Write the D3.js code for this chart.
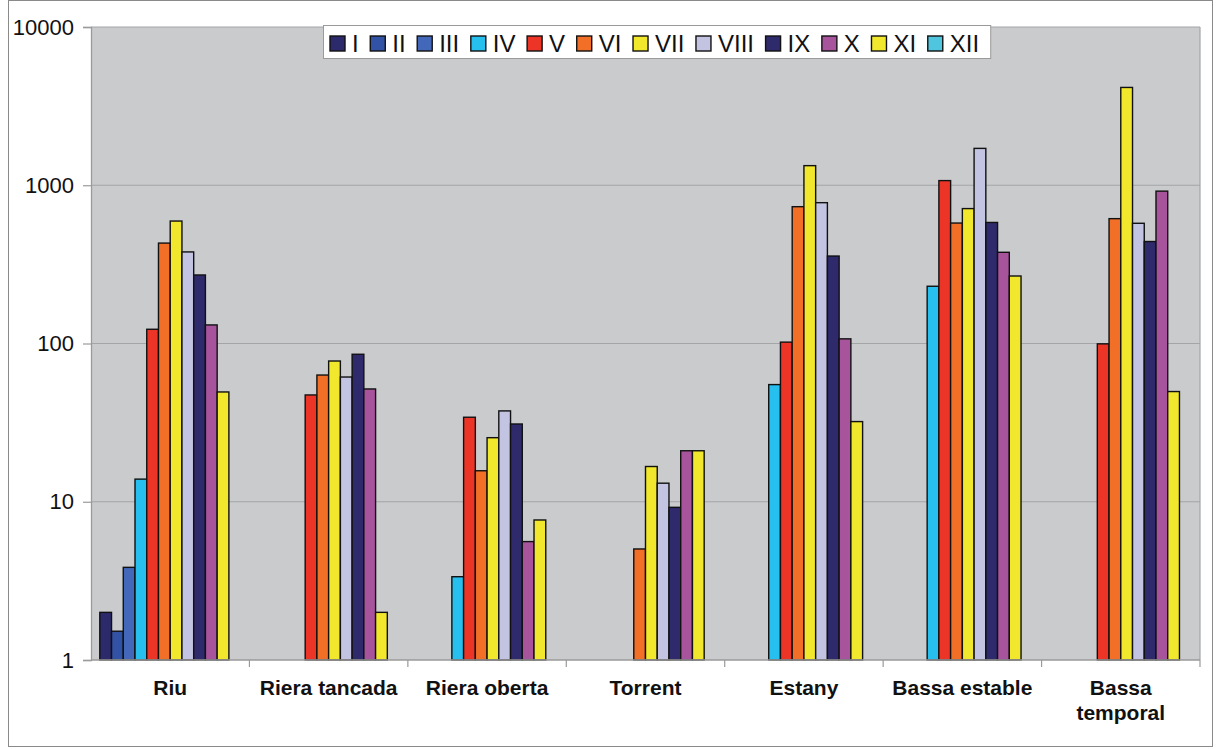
<!DOCTYPE html>
<html>
<head>
<meta charset="utf-8">
<script src="https://cdn.jsdelivr.net/npm/d3@7/dist/d3.min.js"></script>
<style>
  html, body { margin: 0; padding: 0; background: #ffffff; }
  svg { display: block; font-family: Arial, "Liberation Sans", sans-serif; }
</style>
</head>
<body>
<svg id="chart" width="1217" height="749"></svg>
<script>
// Habitat types along the x axis
const categories = ["Riu", "Riera tancada", "Riera oberta", "Torrent", "Estany", "Bassa estable", "Bassa temporal"];
// Months (series)
const months = ["I", "II", "III", "IV", "V", "VI", "VII", "VIII", "IX", "X", "XI", "XII"];
const monthColors = ["#2d2a6c", "#3252a5", "#4468b9", "#27bfee", "#ec3527", "#f26f27",
                     "#f1e72c", "#c3c3e2", "#2e2a6b", "#a7549d", "#f1e72c", "#4fc5df"];

// Values per month, one entry per habitat (null = no sample)
const valI    = [2.0,  null, null, null, null, null, null];
const valII   = [1.52, null, null, null, null, null, null];
const valIII  = [3.85, null, null, null, null, null, null];
const valIV   = [13.9, null, 3.36, null, 55,   230,  null];
const valV    = [123,  47.3, 34.2, null, 102,  1070, 99.5];
const valVI   = [431,  63.2, 15.7, 5.03, 732,  577,  615];
const valVII  = [594,  77.5, 25.4, 16.7, 1330, 712,  4150];
const valVIII = [379,  61.4, 37.5, 13.1, 776,  1710, 575];
const valIX   = [271,  85.5, 31.0, 9.22, 357,  582,  441];
const valX    = [131,  51.6, 5.6,  21.0, 107,  377,  918];
const valXI   = [49.4, 2.0,  7.67, 21.0, 32.1, 267,  49.7];
const valXII  = [null, null, null, null, null, null, null];
const seriesValues = [valI, valII, valIII, valIV, valV, valVI, valVII, valVIII, valIX, valX, valXI, valXII];

// Y axis tick values
const yTicks = [1, 10, 100, 1000, 10000];

const svg = d3.select("#chart");

// Outer frame
svg.append("rect")
  .attr("x", 8.5).attr("y", 0.5)
  .attr("width", 1204).attr("height", 746)
  .attr("fill", "#ffffff").attr("stroke", "#8a8a8a").attr("stroke-width", 1);

const plot = { left: 91, right: 1200, top: 27, bottom: 660 };

const x0 = d3.scaleBand().domain(categories).range([plot.left, plot.right]).paddingInner(0).paddingOuter(0);
const x1 = d3.scaleBand().domain(months).range([0, x0.bandwidth()]).paddingInner(0).paddingOuter(0.75);
const y = d3.scaleLog().domain([1, 10000]).range([plot.bottom, plot.top]);

// Plot background
svg.append("rect")
  .attr("x", plot.left).attr("y", plot.top)
  .attr("width", plot.right - plot.left).attr("height", plot.bottom - plot.top)
  .attr("fill", "#c9cbcd");

// Horizontal gridlines
svg.append("g").selectAll("line")
  .data(yTicks.filter(d => d > 1))
  .join("line")
  .attr("x1", plot.left).attr("x2", plot.right)
  .attr("y1", d => y(d)).attr("y2", d => y(d))
  .attr("stroke", "#a3a5a7").attr("stroke-width", 1.2);

// Right edge of plot area
svg.append("line")
  .attr("x1", plot.right).attr("x2", plot.right)
  .attr("y1", plot.top).attr("y2", plot.bottom)
  .attr("stroke", "#a3a5a7").attr("stroke-width", 1.2);

// Bars
const groups = svg.append("g").selectAll("g")
  .data(categories)
  .join("g")
  .attr("transform", d => `translate(${x0(d)},0)`);

groups.selectAll("rect")
  .data((c, ci) => months.map((m, mi) => ({ month: m, mi: mi, value: seriesValues[mi][ci] })).filter(d => d.value != null))
  .join("rect")
  .attr("x", d => x1(d.month))
  .attr("width", x1.bandwidth())
  .attr("y", d => y(d.value))
  .attr("height", d => y(1) - y(d.value))
  .attr("fill", d => monthColors[d.mi])
  .attr("stroke", "#111111")
  .attr("stroke-width", 1.4);

// Y axis
const yAxis = svg.append("g")
  .attr("transform", `translate(${plot.left},0)`)
  .call(d3.axisLeft(y).tickValues(yTicks).tickFormat(d3.format("d")).tickSize(8).tickPadding(9));
yAxis.select(".domain").attr("stroke", "#9a9a9a").attr("stroke-width", 1.3);
yAxis.selectAll(".tick line").attr("stroke", "#9a9a9a").attr("stroke-width", 1.2);
yAxis.selectAll(".tick text")
  .attr("fill", "#111111")
  .style("font-size", "22px")
  .style("font-family", "Arial, 'Liberation Sans', sans-serif");

// X axis baseline and category separators
svg.append("line")
  .attr("x1", plot.left).attr("x2", plot.right)
  .attr("y1", plot.bottom).attr("y2", plot.bottom)
  .attr("stroke", "#9a9a9a").attr("stroke-width", 1.3);

svg.append("g").selectAll("line")
  .data(categories.slice(1).concat(["__end"]))
  .join("line")
  .attr("x1", d => d === "__end" ? plot.right : x0(d))
  .attr("x2", d => d === "__end" ? plot.right : x0(d))
  .attr("y1", plot.bottom).attr("y2", plot.bottom + 7)
  .attr("stroke", "#9a9a9a").attr("stroke-width", 1.2);

// Category labels (wrapped where the label is too long)
const labelLines = { "Bassa temporal": ["Bassa", "temporal"] };
svg.append("g").selectAll("text")
  .data(categories)
  .join("text")
  .attr("x", d => x0(d) + x0.bandwidth() / 2)
  .attr("y", 695)
  .attr("text-anchor", "middle")
  .attr("font-weight", "bold")
  .attr("font-size", 21)
  .attr("fill", "#111111")
  .each(function (d) {
    const lines = labelLines[d] || [d];
    const t = d3.select(this);
    lines.forEach((ln, i) => {
      t.append("tspan")
        .attr("x", x0(d) + x0.bandwidth() / 2)
        .attr("dy", i === 0 ? 0 : 25)
        .text(ln);
    });
  });

// Legend
const legend = svg.append("g");
const legendBox = legend.append("rect")
  .attr("x", 323.5).attr("y", 25.5)
  .attr("height", 33)
  .attr("fill", "#ffffff").attr("stroke", "#9a9a9a").attr("stroke-width", 1);

let lx = 330;
months.forEach((m, i) => {
  legend.append("rect")
    .attr("x", lx).attr("y", 36)
    .attr("width", 15).attr("height", 15)
    .attr("fill", monthColors[i])
    .attr("stroke", "#111111").attr("stroke-width", 1.4);
  const t = legend.append("text")
    .attr("x", lx + 22).attr("y", 52)
    .attr("font-size", 24)
    .attr("fill", "#111111")
    .text(m);
  lx += 22 + t.node().getComputedTextLength() + 11.6;
});
legendBox.attr("width", lx - 323.5);
</script>
</body>
</html>
